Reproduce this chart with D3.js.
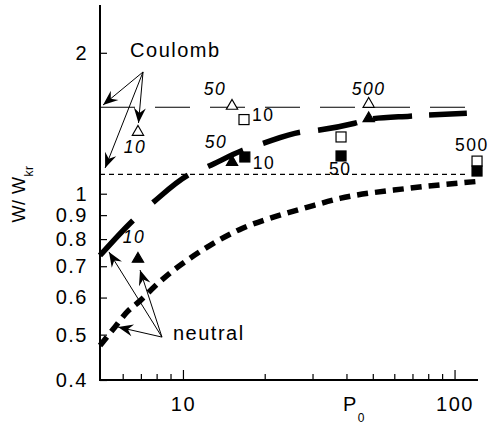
<!DOCTYPE html>
<html><head><meta charset="utf-8">
<script src="https://cdn.jsdelivr.net/npm/d3@7"></script>
<style>
body{margin:0;background:#fff;}
svg{display:block;font-family:"Liberation Sans",Arial,Helvetica,sans-serif;}
</style></head><body>
<svg id="c" width="490" height="426"></svg>
<script>
// ---------- data ----------
const xMajorTicks = [10, 100];
const xMajorLabels = ["10", "100"];
const xMinorTicks = [6, 7, 8, 9, 20, 30, 40, 50, 60, 70, 80, 90];
const yTickValues = [0.4, 0.5, 0.6, 0.7, 0.8, 0.9, 1, 2];
const yTickLabels = ["0.4", "0.5", "0.6", "0.7", "0.8", "0.9", "1", "2"];

const levelP = [4.95, 113];
const coulombLevelW = 1.53;
const neutralLevelW = 1.1;

const coulombCurveP = [4.95, 6.55, 7.77, 10.4, 12.4, 16.6, 19.7, 27.0, 31.4, 42.9, 48.8, 68.4, 111];
const coulombCurveW = [0.738, 0.877, 0.958, 1.094, 1.144, 1.238, 1.281, 1.353, 1.366, 1.414, 1.443, 1.464, 1.485];

const neutralCurveP = [4.95, 5.63, 6.23, 6.96, 7.83, 8.82, 10.44, 12.37, 16.5, 21.4, 28.6, 37.8, 66.7, 121];
const neutralCurveW = [0.474, 0.520, 0.559, 0.591, 0.632, 0.672, 0.723, 0.771, 0.843, 0.890, 0.935, 0.977, 1.026, 1.062];

const openTriP = [6.83, 15.16, 48.3];
const openTriW = [1.361, 1.547, 1.562];
const openTriLabels = ["10", "50", "500"];

const filledTriP = [6.83, 15.16, 48.3];
const filledTriW = [0.729, 1.174, 1.455];
const filledTriLabels = ["10", "50", ""];

const openSqP = [16.78, 38.2, 121];
const openSqW = [1.44, 1.322, 1.174];
const openSqLabels = ["10", "", "500"];

const filledSqP = [16.9, 38.2, 121];
const filledSqW = [1.198, 1.204, 1.118];
const filledSqLabels = ["10", "50", ""];

const coulombText = "Coulomb";
const coulombTextAt = [6.39, 1.958];
const coulombArrowFrom = [7.13, 1.82];
const coulombArrowToP = [5.08, 6.86, 5.17];
const coulombArrowToW = [1.547, 1.416, 1.135];

const neutralText = "neutral";
const neutralTextAt = [9.19, 0.487];
const neutralArrowFrom = [8.37, 0.494];
const neutralArrowToP = [5.34, 6.95, 5.77];
const neutralArrowToW = [0.751, 0.687, 0.519];

// ---------- layout ----------
const svg = d3.select("#c");
const x = d3.scaleLog().domain([4.95, 122]).range([100, 478]);
const y = d3.scaleLog().domain([0.4, 2.53]).range([380, 5]);
const FS = 20, LS = "1.5px";

const defs = svg.append("defs");
defs.append("marker").attr("id", "ah")
  .attr("markerUnits", "userSpaceOnUse")
  .attr("viewBox", "-16 -7 17 14").attr("refX", 0).attr("refY", 0)
  .attr("markerWidth", 17).attr("markerHeight", 14).attr("orient", "auto")
  .append("path").attr("d", "M0,0 L-15,-6 L-10,0 L-15,6 Z").attr("fill", "#000");

// horizontal reference lines
svg.append("line")
  .attr("x1", x(levelP[0])).attr("x2", x(levelP[1]))
  .attr("y1", y(coulombLevelW)).attr("y2", y(coulombLevelW))
  .attr("stroke", "#000").attr("stroke-width", 1.2).attr("stroke-dasharray", "35,20");
svg.append("line")
  .attr("x1", x(levelP[0])).attr("x2", x(levelP[1]))
  .attr("y1", y(neutralLevelW)).attr("y2", y(neutralLevelW))
  .attr("stroke", "#000").attr("stroke-width", 1.1).attr("stroke-dasharray", "5,4");

// curves
const line = d3.line().x(d => x(d[0])).y(d => y(d[1])).curve(d3.curveMonotoneX);
const cPath = svg.append("path").datum(d3.zip(coulombCurveP, coulombCurveW))
  .attr("d", line).attr("fill", "none").attr("stroke", "#000")
  .attr("stroke-width", 5.5);
svg.append("path").datum(d3.zip(neutralCurveP, neutralCurveW))
  .attr("d", line).attr("fill", "none").attr("stroke", "#000")
  .attr("stroke-width", 5.5).attr("stroke-dasharray", "11,7");

// dash pattern of the Coulomb curve, gaps placed by screen x (styling)
(function () {
  const node = cPath.node();
  const L = node.getTotalLength();
  function lenAtX(xt) {
    let lo = 0, hi = L;
    for (let i = 0; i < 40; i++) {
      const m = (lo + hi) / 2;
      if (node.getPointAtLength(m).x < xt) lo = m; else hi = m;
    }
    return lo;
  }
  const gapsX = [[133, 153], [188, 208], [243, 263], [300, 318], [357, 373], [412, 429]];
  const b = [0];
  gapsX.forEach(g => { b.push(lenAtX(g[0])); b.push(lenAtX(g[1])); });
  b.push(L);
  const arr = [];
  for (let i = 1; i < b.length; i++) arr.push((b[i] - b[i - 1]).toFixed(2));
  arr.push(10);
  cPath.attr("stroke-dasharray", arr.join(","));
})();

// axes
const gx = svg.append("g").attr("transform", "translate(0,380)");
gx.call(d3.axisBottom(x).tickValues(xMinorTicks).tickSize(-6).tickFormat(""));
const gx2 = svg.append("g").attr("transform", "translate(0,380)");
gx2.call(d3.axisBottom(x).tickValues(xMajorTicks).tickSize(-10).tickPadding(17)
  .tickFormat((d, i) => xMajorLabels[i]));
const gy = svg.append("g").attr("transform", "translate(100,0)");
gy.call(d3.axisLeft(y).tickValues(yTickValues).tickSize(-7).tickPadding(12)
  .tickFormat((d, i) => yTickLabels[i]));
svg.selectAll(".domain").remove();
svg.selectAll(".tick line").attr("stroke", "#000").attr("stroke-width", 1.2);
svg.selectAll(".tick text").attr("font-size", FS).attr("font-family", "Liberation Sans, Arial, sans-serif")
  .attr("fill", "#000").style("letter-spacing", LS);
svg.append("line").attr("x1", x.range()[0]).attr("x2", x.range()[1])
  .attr("y1", y.range()[0]).attr("y2", y.range()[0]).attr("stroke", "#000").attr("stroke-width", 2);
svg.append("line").attr("x1", x.range()[0]).attr("x2", x.range()[0])
  .attr("y1", y.range()[0] + 1).attr("y2", y.range()[1]).attr("stroke", "#000").attr("stroke-width", 2);

// axis titles
const px = svg.append("text").attr("x", 343).attr("y", 411).attr("font-size", FS).style("letter-spacing", LS);
px.append("tspan").text("P");
px.append("tspan").attr("font-size", 12).attr("dy", 11).text("0");
const wy = svg.append("text").attr("transform", "translate(25,194) rotate(-90)")
  .attr("text-anchor", "middle").attr("font-size", 18).style("letter-spacing", "0.5px");
wy.append("tspan").text("W/ W");
wy.append("tspan").attr("font-size", 12).attr("dy", 8).text("kr");

// arrows & annotation texts
function arrows(from, toP, toW) {
  d3.zip(toP, toW).forEach(t => {
    svg.append("line").attr("x1", x(from[0])).attr("y1", y(from[1]))
      .attr("x2", x(t[0])).attr("y2", y(t[1]))
      .attr("stroke", "#000").attr("stroke-width", 1).attr("marker-end", "url(#ah)");
  });
}
arrows(coulombArrowFrom, coulombArrowToP, coulombArrowToW);
arrows(neutralArrowFrom, neutralArrowToP, neutralArrowToW);
svg.append("text").attr("x", x(coulombTextAt[0])).attr("y", y(coulombTextAt[1]))
  .attr("font-size", FS).style("letter-spacing", LS).text(coulombText);
svg.append("text").attr("x", x(neutralTextAt[0])).attr("y", y(neutralTextAt[1]))
  .attr("font-size", FS).style("letter-spacing", LS).text(neutralText);

// point markers
const tri = d3.symbol().type(d3.symbolTriangle).size(55);
function triangles(P, W, filled) {
  svg.append("g").selectAll("path").data(d3.zip(P, W)).join("path")
    .attr("d", tri).attr("transform", d => `translate(${x(d[0])},${y(d[1]) + 1})`)
    .attr("fill", filled ? "#000" : "#fff").attr("stroke", "#000").attr("stroke-width", 1.2);
}
function squares(P, W, filled) {
  svg.append("g").selectAll("rect").data(d3.zip(P, W)).join("rect")
    .attr("x", d => x(d[0]) - 5).attr("y", d => y(d[1]) - 5).attr("width", 10).attr("height", 10)
    .attr("fill", filled ? "#000" : "#fff").attr("stroke", "#000").attr("stroke-width", 1.2);
}
triangles(openTriP, openTriW, false);
triangles(filledTriP, filledTriW, true);
squares(openSqP, openSqW, false);
squares(filledSqP, filledSqW, true);

// marker labels (offsets are layout only)
const LFS = 17.5;
function labels(P, W, L, offs, italic, anchor) {
  d3.zip(P, W, L, offs).forEach(d => {
    if (!d[2]) return;
    svg.append("text").attr("x", x(d[0]) + d[3][0]).attr("y", y(d[1]) + d[3][1])
      .attr("font-size", LFS).attr("font-style", italic ? "italic" : "normal")
      .attr("text-anchor", anchor).style("letter-spacing", LS).text(d[2]);
  });
}
labels(openTriP, openTriW, openTriLabels, [[-3, 22], [-17, -10], [0, -8]], true, "middle");
labels(filledTriP, filledTriW, filledTriLabels, [[-4, -15], [-16, -13], [0, 0]], true, "middle");
labels(openSqP, openSqW, openSqLabels, [[8, 1], [0, 0], [-22, -10]], false, "start");
labels(filledSqP, filledSqW, filledSqLabels, [[8, 12], [-12, 19], [0, 0]], false, "start");
</script></body></html>
